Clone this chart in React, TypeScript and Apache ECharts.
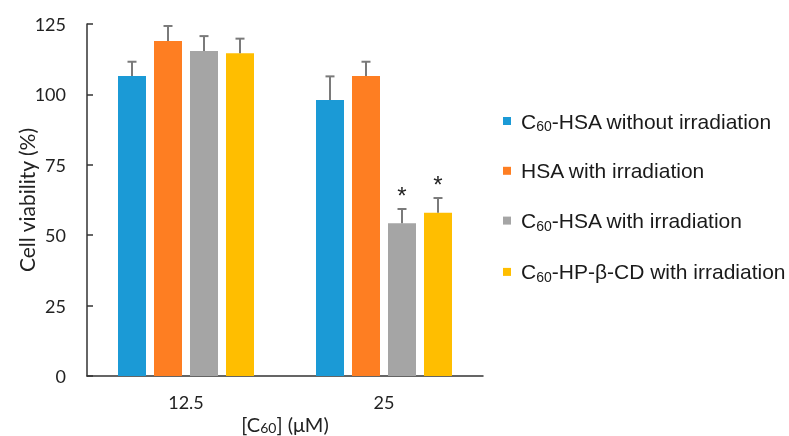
import React, { useEffect, useRef } from "react";
import * as echarts from "echarts";

const categories = ["12.5", "25"];
const seriesNames = [
  "C60-HSA without irradiation",
  "HSA with irradiation",
  "C60-HSA with irradiation",
  "C60-HP-β-CD with irradiation",
];
const seriesLabels = [
  "{n|C}{s|60}{n|-HSA without irradiation}",
  "{n|HSA with irradiation}",
  "{n|C}{s|60}{n|-HSA with irradiation}",
  "{n|C}{s|60}{n|-HP-β-CD with irradiation}",
];
const colors = ["#1b9ad6", "#fe7e22", "#a5a5a5", "#ffbe00"];
const means = [
  [106.5, 98.0],
  [119.0, 106.5],
  [115.4, 54.2],
  [114.6, 58.0],
];
const errors = [
  [5.1, 8.4],
  [5.3, 5.1],
  [5.3, 5.1],
  [5.2, 5.2],
];
const significant = [
  [false, false],
  [false, false],
  [false, true],
  [false, true],
];
const yTicks = [0, 25, 50, 75, 100, 125];

const BAR_W = 28;
const BAR_STEP = 36;

export default function App() {
  const ref = useRef<HTMLDivElement>(null);
  useEffect(() => {
    const chart = echarts.init(ref.current!, null, { renderer: "svg" });
    const series: any[] = [];
    means.forEach((vals, i) => {
      series.push({
        name: seriesNames[i],
        type: "bar",
        data: vals,
        barWidth: BAR_W,
        barGap: "28.57%",
        itemStyle: { color: colors[i] },
      });
    });
    means.forEach((vals, i) => {
      series.push({
        name: seriesNames[i] + " err",
        type: "custom",
        data: vals.map((v, j) => [j, v, errors[i][j], significant[i][j] ? 1 : 0]),
        z: 5,
        renderItem: (params: any, api: any) => {
          const cat = api.value(0);
          const m = api.value(1);
          const e = api.value(2);
          const sig = api.value(3);
          const base = api.coord([cat, m]);
          const top = api.coord([cat, m + e]);
          const x = base[0] + (i - 1.5) * BAR_STEP;
          const children: any[] = [
            {
              type: "line",
              shape: { x1: x, y1: base[1], x2: x, y2: top[1] },
              style: { stroke: "#7a7a7a", lineWidth: 2 },
            },
            {
              type: "line",
              shape: { x1: x - 4.5, y1: top[1], x2: x + 4.5, y2: top[1] },
              style: { stroke: "#7a7a7a", lineWidth: 2 },
            },
          ];
          if (sig) {
            children.push({
              type: "text",
              x: x,
              y: top[1] - 14,
              style: {
                text: "*",
                fontSize: 24,
                fontFamily: "Liberation Sans",
                fill: "#222",
                align: "center",
                verticalAlign: "middle",
              },
            });
          }
          return { type: "group", children };
        },
      });
    });

    chart.setOption({
      animation: false,
      grid: {
        left: 87,
        top: 24,
        width: 396,
        height: 352,
        containLabel: false,
        outerBoundsMode: "none",
      },
      legend: {
        data: seriesNames,
        orient: "vertical",
        left: 498,
        top: 104,
        itemGap: 27.3,
        itemWidth: 8,
        itemHeight: 8,
        icon: "rect",
        formatter: (name: string) => seriesLabels[seriesNames.indexOf(name)],
        textStyle: {
          padding: [0, 0, 0, 5],
          rich: {
            n: { fontSize: 21, fontFamily: "Liberation Sans", color: "#1a1a1a", lineHeight: 24 },
            s: { fontSize: 14, fontFamily: "Liberation Sans", color: "#1a1a1a", padding: [10, 0, 0, 0], lineHeight: 24 },
          },
        },
      },
      xAxis: {
        type: "category",
        data: categories,
        axisTick: { show: false },
        axisLine: { lineStyle: { color: "#333", width: 1.5 } },
        axisLabel: { fontSize: 18, fontFamily: "Lato", color: "#222", margin: 17 },
        name: "{n|[C}{s|60}{n|] (μM)}",
        nameLocation: "middle",
        nameGap: 38,
        nameMoveOverlap: false,
        nameTextStyle: {
          rich: {
            n: { fontSize: 20, fontFamily: "Lato", color: "#222", lineHeight: 20 },
            s: { fontSize: 14, fontFamily: "Lato", color: "#222", padding: [6, 0, 0, 0], lineHeight: 14 },
          },
        },
      },
      yAxis: {
        type: "value",
        min: 0,
        max: 125,
        interval: 25,
        splitLine: { show: false },
        axisLine: { show: true, lineStyle: { color: "#333", width: 1.5 } },
        axisTick: { show: true, inside: true, length: 6, lineStyle: { color: "#333", width: 1.5 } },
        axisLabel: {
          fontSize: 18,
          fontFamily: "Lato",
          color: "#222",
          margin: 21,
          formatter: (v: number) => (yTicks.includes(v) ? String(v) : ""),
        },
        name: "Cell viability (%)",
        nameLocation: "middle",
        nameGap: 50,
        nameMoveOverlap: false,
        nameTextStyle: { fontSize: 21, fontFamily: "Lato", color: "#222" },
      },
      series,
    });
    return () => chart.dispose();
  }, []);
  return (
    <div
      ref={ref}
      style={{ position: "fixed", left: 0, top: 0, width: 789, height: 436 }}
    />
  );
}
